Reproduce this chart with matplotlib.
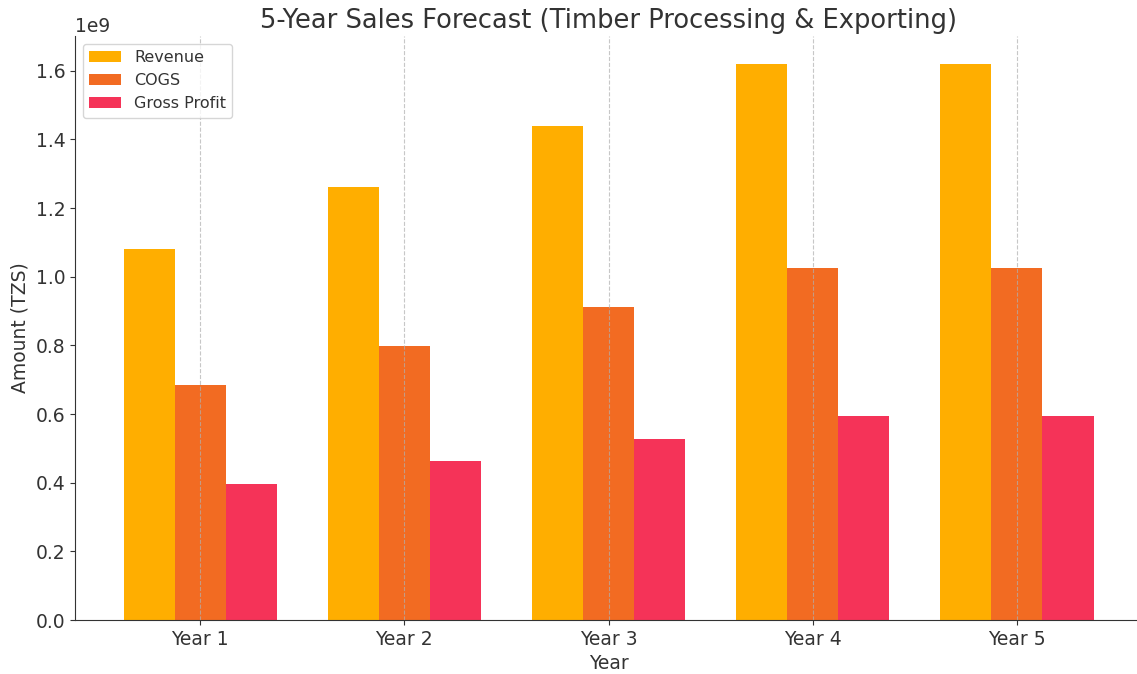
import numpy as np
import matplotlib.pyplot as plt

# Data (TZS)
years = ['Year 1', 'Year 2', 'Year 3', 'Year 4', 'Year 5']
revenue = [1.08e9, 1.26e9, 1.44e9, 1.62e9, 1.62e9]
cogs = [0.684e9, 0.798e9, 0.912e9, 1.026e9, 1.026e9]
gross_profit = [0.396e9, 0.462e9, 0.528e9, 0.594e9, 0.594e9]

colors = ['#FFAE00', '#F26B22', '#F53358']
dark = '#333333'
plt.rcParams['font.family'] = ['DejaVu Sans']
plt.rcParams['text.color'] = dark
plt.rcParams['axes.labelcolor'] = dark
plt.rcParams['xtick.color'] = dark
plt.rcParams['ytick.color'] = dark
plt.rcParams['axes.edgecolor'] = dark

fig = plt.figure(figsize=(11.37, 6.74), dpi=100)
ax = fig.add_axes([75/1137, 54/674, 1067/1137, 584/674])

x = np.arange(len(years))
w = 0.25
ax.bar(x - w, revenue, w, label='Revenue', color=colors[0])
ax.bar(x, cogs, w, label='COGS', color=colors[1])
ax.bar(x + w, gross_profit, w, label='Gross Profit', color=colors[2])

ax.set_xticks(x)
ax.set_xticklabels(years)
ax.tick_params(labelsize=13.5)
ax.yaxis.get_offset_text().set_fontsize(13.5)
ax.set_xlabel('Year', fontsize=13.5)
ax.set_ylabel('Amount (TZS)', fontsize=13.5)
ax.set_title('5-Year Sales Forecast (Timber Processing & Exporting)', fontsize=18.5)
ax.legend(loc='upper left', fontsize=11.5)
ax.grid(axis='x', linestyle='--', alpha=0.7)
ax.spines['top'].set_visible(False)
ax.spines['right'].set_visible(False)

fig.savefig('out.png', dpi=100)
